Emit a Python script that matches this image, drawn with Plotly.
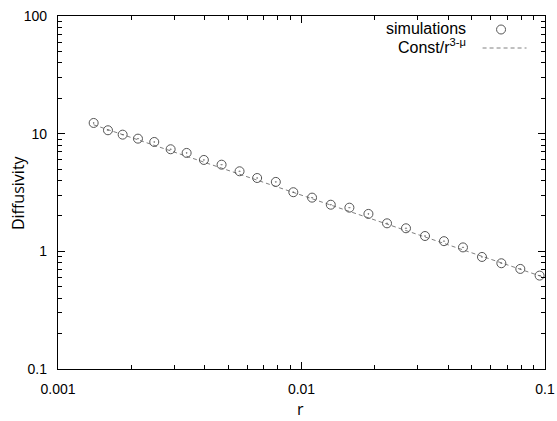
import plotly.graph_objects as go

# data
r_sim = [0.001401, 0.001604, 0.001843, 0.002130, 0.002485, 0.002901, 0.003375,
         0.003973, 0.004696, 0.005567, 0.006574, 0.007845, 0.009256, 0.01105,
         0.01319, 0.01573, 0.01883, 0.02245, 0.02686, 0.03215, 0.03847,
         0.04604, 0.05510, 0.06618, 0.07918, 0.09502]
d_sim = [12.33, 10.69, 9.81, 9.07, 8.50, 7.37, 6.86, 5.98, 5.45, 4.79, 4.20,
         3.89, 3.18, 2.86, 2.49, 2.35, 2.08, 1.73, 1.57, 1.35, 1.22, 1.08,
         0.896, 0.792, 0.709, 0.622]
r_fit = [0.0014, 0.1]
d_fit = [11.9, 0.598]

x_ticks = [0.001, 0.01, 0.1]
x_labels = ["0.001", "0.01", "0.1"]
y_ticks = [0.1, 1, 10, 100]
y_labels = ["0.1", "1", "10", "100"]

x_minor = [m * d for d in (0.001, 0.01) for m in range(2, 10)]
y_minor = [m * d for d in (0.1, 1, 10) for m in range(2, 10)]

W, H = 557, 421
L, R, T, B = 58, 11.5, 16, 52
PW, PH = W - L - R, H - T - B


def px(x):
    return (x - L) / PW


def py(y):
    return (H - B - y) / PH


fig = go.Figure()
fig.add_trace(go.Scatter(x=r_fit, y=d_fit, mode="lines",
                         line=dict(color="#808080", width=1, dash="4px,3px"),
                         showlegend=False))
fig.add_trace(go.Scatter(x=r_sim, y=d_sim, mode="markers",
                         marker=dict(symbol="circle-open-dot", size=9,
                                     color="#555555", line=dict(width=1, color="#555555")),
                         showlegend=False))

tickfont = dict(family="Liberation Sans, Arial", size=14, color="black")
legfont = dict(family="Liberation Sans, Arial", size=16, color="black")
axis_common = dict(type="log", ticks="inside", ticklen=7, tickwidth=1,
                   tickcolor="black", showline=True, linecolor="black", linewidth=1.3,
                   mirror="allticks", showgrid=False, zeroline=False, automargin=False,
                   tickfont=tickfont, ticklabelstandoff=7)

fig.update_xaxes(**axis_common, range=[-3, -1], tickvals=x_ticks, ticktext=x_labels,
                 minor=dict(ticks="inside", ticklen=4, tickcolor="black",
                            tickvals=x_minor, showgrid=False))
fig.update_yaxes(**axis_common, range=[-1, 2], tickvals=y_ticks, ticktext=y_labels,
                 minor=dict(ticks="inside", ticklen=4, tickcolor="black",
                            tickvals=y_minor, showgrid=False))

titlefont = dict(family="Open Sans", size=16, color="black")
fig.add_annotation(xref="paper", yref="paper", x=px(301), y=py(409), text="r",
                   showarrow=False, xanchor="center", yanchor="middle", font=titlefont)
fig.add_annotation(xref="paper", yref="paper", x=px(18), y=py(193), text="Diffusivity",
                   showarrow=False, xanchor="center", yanchor="middle", textangle=-90,
                   font=titlefont)

# legend, gnuplot style (text then key)
fig.add_annotation(xref="paper", yref="paper", x=px(468), y=py(29),
                   text="simulations", showarrow=False, xanchor="right", yanchor="middle",
                   font=legfont)
fig.add_annotation(xref="paper", yref="paper", x=px(468), y=py(46),
                   text="Const/r<sup>3-μ</sup>", showarrow=False, xanchor="right",
                   yanchor="middle", font=legfont)
fig.add_shape(type="circle", xref="paper", yref="paper",
              x0=px(497), x1=px(506), y0=py(34), y1=py(25),
              line=dict(color="#555555", width=1))
fig.add_shape(type="line", xref="paper", yref="paper",
              x0=px(483), x1=px(527), y0=py(48), y1=py(48),
              line=dict(color="#808080", width=1, dash="4px,3px"))

fig.update_layout(width=W, height=H, plot_bgcolor="white", paper_bgcolor="white",
                  margin=dict(l=L, r=R, t=T, b=B), showlegend=False)

fig.write_html("out.html", config={"displayModeBar": False},
               post_script="document.body.style.margin='0';document.body.style.overflow='hidden';")
